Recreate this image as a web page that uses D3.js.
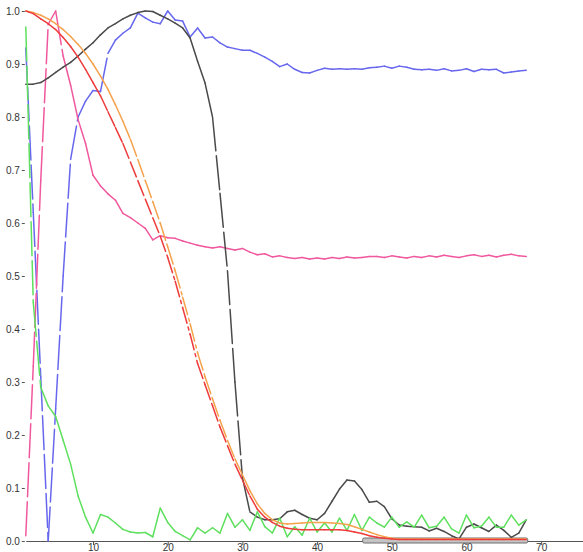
<!DOCTYPE html>
<html>
<head>
<meta charset="utf-8">
<script src="https://cdn.jsdelivr.net/npm/d3@7"></script>
<style>
  body { margin: 0; background: #fff; }
  .axis text { font-family: "Liberation Sans", Arial, sans-serif; font-size: 10px; fill: #333; }
  .axis line, .axis path { stroke: #555; }
</style>
</head>
<body>
<div id="graph"></div>
<script>
// x positions of the samples (1..68)
var steps = d3.range(1, 69);

var blue = [0.93, 0.62, 0.31, 0.0, 0.25, 0.50, 0.72, 0.80, 0.83, 0.85,
  0.848, 0.92, 0.945, 0.958, 0.968, 0.996, 0.987, 0.979, 0.976, 1.0,
  0.983, 0.981, 0.951, 0.968, 0.949, 0.951, 0.94, 0.932, 0.929, 0.926,
  0.926, 0.92, 0.913, 0.905, 0.895, 0.9, 0.89, 0.884, 0.883, 0.888,
  0.892, 0.89, 0.891, 0.89, 0.891, 0.89, 0.893, 0.894, 0.896, 0.892,
  0.896, 0.894, 0.89, 0.889, 0.89, 0.888, 0.891, 0.887, 0.888, 0.891,
  0.886, 0.89, 0.889, 0.89, 0.883, 0.885, 0.887, 0.888];

var pink = [0.01, 0.33, 0.68, 0.975, 1.0, 0.915, 0.86, 0.795, 0.75, 0.69,
  0.67, 0.655, 0.643, 0.618, 0.61, 0.6, 0.59, 0.568, 0.576, 0.572,
  0.571, 0.566, 0.562, 0.558, 0.555, 0.553, 0.555, 0.552, 0.549, 0.552,
  0.545, 0.54, 0.542, 0.536, 0.538, 0.535, 0.533, 0.535, 0.532, 0.534,
  0.532, 0.535, 0.533, 0.536, 0.534, 0.535, 0.537, 0.537, 0.535, 0.538,
  0.536, 0.534, 0.537, 0.535, 0.538, 0.536, 0.539, 0.537, 0.535, 0.538,
  0.54, 0.537, 0.539, 0.536, 0.539, 0.541, 0.538, 0.537];

var black = [0.862, 0.862, 0.865, 0.874, 0.884, 0.894, 0.903, 0.915, 0.928, 0.94,
  0.955, 0.968, 0.976, 0.985, 0.992, 0.997, 1.0, 0.999, 0.992, 0.985,
  0.977, 0.968, 0.949, 0.905, 0.864, 0.80, 0.656, 0.51, 0.30, 0.12,
  0.055, 0.045, 0.04, 0.04, 0.042, 0.055, 0.058, 0.05, 0.043, 0.04,
  0.052, 0.075, 0.098, 0.115, 0.113, 0.097, 0.073, 0.075, 0.065, 0.042,
  0.03, 0.028, 0.027, 0.026, 0.019, 0.024, 0.018, 0.01, 0.004, 0.026,
  0.032, 0.025, 0.018, 0.03, 0.02, 0.007, 0.015, 0.04];

var green = [0.97, 0.45, 0.29, 0.255, 0.235, 0.19, 0.145, 0.085, 0.045, 0.015,
  0.05, 0.045, 0.034, 0.022, 0.017, 0.015, 0.016, 0.008, 0.062, 0.035,
  0.018, 0.01, 0.002, 0.025, 0.015, 0.025, 0.015, 0.052, 0.026, 0.04,
  0.02, 0.055, 0.027, 0.015, 0.043, 0.008, 0.027, 0.011, 0.043, 0.017,
  0.034, 0.017, 0.043, 0.02, 0.05, 0.02, 0.045, 0.034, 0.026, 0.045,
  0.026, 0.036, 0.026, 0.049, 0.025, 0.028, 0.045, 0.023, 0.015, 0.049,
  0.025, 0.028, 0.045, 0.026, 0.026, 0.049, 0.03, 0.04];

var red = [1.0, 0.995, 0.985, 0.976, 0.965, 0.95, 0.933, 0.913, 0.89, 0.865,
  0.84, 0.81, 0.78, 0.75, 0.715, 0.68, 0.645, 0.61, 0.575, 0.535,
  0.49, 0.44, 0.39, 0.335, 0.295, 0.255, 0.215, 0.18, 0.145, 0.115,
  0.085, 0.06, 0.045, 0.035, 0.028, 0.024, 0.022, 0.021, 0.021, 0.021,
  0.021, 0.021, 0.021, 0.02, 0.017, 0.014, 0.01, 0.007, 0.005, 0.004,
  0.003, 0.003, 0.003, 0.003, 0.003, 0.003, 0.003, 0.003, 0.003, 0.003,
  0.003, 0.003, 0.003, 0.003, 0.003, 0.003, 0.003, 0.003];

var orange = [1.0, 0.997, 0.992, 0.985, 0.976, 0.965, 0.952, 0.937, 0.92, 0.9,
  0.877, 0.852, 0.823, 0.792, 0.758, 0.72, 0.68, 0.64, 0.6, 0.555,
  0.51, 0.46, 0.41, 0.355, 0.31, 0.268, 0.228, 0.19, 0.155, 0.125,
  0.095, 0.07, 0.052, 0.04, 0.034, 0.032, 0.033, 0.034, 0.035, 0.035,
  0.035, 0.034, 0.033, 0.031, 0.027, 0.022, 0.017, 0.012, 0.008, 0.005,
  0.004, 0.004, 0.004, 0.004, 0.004, 0.004, 0.004, 0.004, 0.004, 0.004,
  0.004, 0.004, 0.004, 0.004, 0.004, 0.004, 0.004, 0.004];

var xTicks = [10, 20, 30, 40, 50, 60, 70];
var yTicks = [0, 0.1, 0.2, 0.3, 0.4, 0.5, 0.6, 0.7, 0.8, 0.9, 1.0];
// grey band sitting on the x axis (in x units)
var band = [46.1, 68.2];

var svgWidth = 583;
var svgHeight = 552;

var svg = d3.select("#graph")
  .append("svg")
  .attr("width", svgWidth)
  .attr("height", svgHeight);

var xScale = d3.scaleLinear().domain([1, 75.6]).range([25.8, 583]);
var yScale = d3.scaleLinear().domain([0, 1]).range([541, 11]);

// axes
var bottomAxis = svg.append("g")
  .attr("class", "axis")
  .attr("transform", `translate(0, ${yScale(0)})`)
  .call(d3.axisBottom(xScale).tickValues(xTicks).tickSize(4).tickSizeOuter(0).tickFormat(d3.format("d")));
// labels sit right at the bottom edge, pull them up so they fit
bottomAxis.selectAll(".tick text").attr("y", 2.5);

var leftAxis = svg.append("g")
  .attr("class", "axis")
  .attr("transform", `translate(${xScale(1) - 1}, 0)`)
  .call(d3.axisLeft(yScale).tickValues(yTicks).tickSize(3).tickPadding(2).tickFormat(d3.format(".1f")));
leftAxis.select(".domain").remove();

svg.append("rect")
  .attr("x", xScale(band[0]))
  .attr("y", yScale(0) - 3)
  .attr("width", xScale(band[1]) - xScale(band[0]))
  .attr("height", 5)
  .attr("rx", 1.5)
  .attr("fill", "#c4c4c4")
  .attr("stroke", "#6e6e6e")
  .attr("stroke-width", 1);

// each segment gets its own dash pattern, so short segments look solid
var series = [
  { values: blue, color: "#6767ee", dash: "34,5" },
  { values: pink, color: "#f0589e", dash: "34,5" },
  { values: black, color: "#4a4a4a", dash: "34,5" },
  { values: green, color: "#5ee05e", dash: "34,5" },
  { values: orange, color: "#f5a24c", dash: "18,4,3,4" },
  { values: red, color: "#ee3b3b", dash: "16,4,3,4" }
];

series.forEach(function (s) {
  var pts = s.values.map(function (v, i) { return [steps[i], v]; });
  svg.append("g")
    .selectAll("line")
    .data(d3.pairs(pts))
    .enter()
    .append("line")
    .attr("x1", d => xScale(d[0][0]))
    .attr("y1", d => yScale(d[0][1]))
    .attr("x2", d => xScale(d[1][0]))
    .attr("y2", d => yScale(d[1][1]))
    .attr("stroke", s.color)
    .attr("stroke-width", 1.5)
    .attr("stroke-linecap", "round")
    .attr("stroke-dasharray", s.dash);
});
</script>
</body>
</html>
